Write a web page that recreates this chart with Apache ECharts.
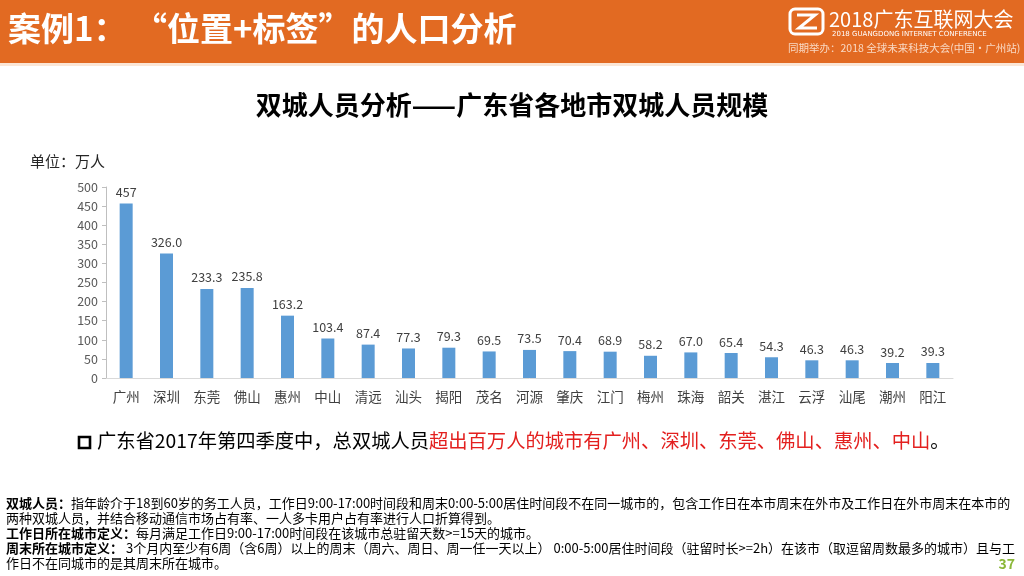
<!DOCTYPE html>
<html>
<head>
<meta charset="utf-8">
<script src="https://cdn.jsdelivr.net/npm/echarts@6/dist/echarts.min.js"></script>
<style>
html,body{margin:0;padding:0;background:#fff;}
#main{width:1024px;height:576px;}
</style>
</head>
<body>
<div id="main"></div>
<script>
const categories = ['广州','深圳','东莞','佛山','惠州','中山','清远','汕头','揭阳','茂名','河源','肇庆','江门','梅州','珠海','韶关','湛江','云浮','汕尾','潮州','阳江'];
const values = [457,326.0,233.3,235.8,163.2,103.4,87.4,77.3,79.3,69.5,73.5,70.4,68.9,58.2,67.0,65.4,54.3,46.3,46.3,39.2,39.3];
const valueLabels = ['457','326.0','233.3','235.8','163.2','103.4','87.4','77.3','79.3','69.5','73.5','70.4','68.9','58.2','67.0','65.4','54.3','46.3','46.3','39.2','39.3'];
const headerTitleA = '案例1：';
const headerTitleB = '“位置+标签”的人口分析';
const logoTitle = '2018广东互联网大会';
const logoSub = '2018 GUANGDONG INTERNET CONFERENCE';
const logoSub2 = '同期举办：2018 全球未来科技大会(中国·广州站)';
const chartTitle = '双城人员分析——广东省各地市双城人员规模';
const unitText = '单位：万人';
const bulletBlack = '广东省2017年第四季度中，总双城人员';
const bulletRed = '超出百万人的城市有广州、深圳、东莞、佛山、惠州、中山';
const bulletEnd = '。';
const notes = [
  [['b','双城人员：'],['n','指年龄介于18到60岁的务工人员，工作日9:00-17:00时间段和周末0:00-5:00居住时间段不在同一城市的，包含工作日在本市周末在外市及工作日在外市周末在本市的']],
  [['n','两种双城人员，并结合移动通信市场占有率、一人多卡用户占有率进行人口折算得到。']],
  [['b','工作日所在城市定义：'],['n','每月满足工作日9:00-17:00时间段在该城市总驻留天数>=15天的城市。']],
  [['b','周末所在城市定义：'],['n',' 3个月内至少有6周（含6周）以上的周末（周六、周日、周一任一天以上） 0:00-5:00居住时间段（驻留时长>=2h）在该市（取逗留周数最多的城市）且与工']],
  [['n','作日不在同城市的是其周末所在城市。']]
];
const pageNumber = '37';

const FONT = '"Noto Sans CJK SC", "Noto Sans", sans-serif';
const chart = echarts.init(document.getElementById('main'), null, {renderer:'canvas'});

const noteY = [506, 521, 536, 551, 566];
const noteGraphics = notes.map((parts, i) => ({
  type:'text', left:6, top:noteY[i]-9, z:10,
  style:{
    text: parts.map(p => '{' + p[0] + '|' + p[1] + '}').join(''),
    rich:{
      b:{fontFamily:FONT,fontSize:13,fontWeight:'bold',fill:'#000',color:'#000'},
      n:{fontFamily:FONT,fontSize:13,fill:'#000',color:'#000'}
    }
  }
}));

chart.setOption({
  animation:false,
  backgroundColor:'#ffffff',
  textStyle:{fontFamily:FONT},
  grid:{left:106, right:71, top:187, bottom:198, containLabel:false},
  xAxis:{
    type:'category', data:categories,
    axisLine:{lineStyle:{color:'#D9D9D9', width:1}},
    axisTick:{show:false},
    axisLabel:{color:'#404040', fontSize:13.5, margin:12, fontFamily:FONT, interval:0}
  },
  yAxis:{
    type:'value', min:0, max:500, interval:50,
    axisLine:{show:true, lineStyle:{color:'#BFBFBF'}},
    axisTick:{show:true, length:4, lineStyle:{color:'#BFBFBF'}},
    splitLine:{show:false},
    axisLabel:{color:'#595959', fontSize:12.5, margin:8, fontFamily:FONT}
  },
  series:[{
    type:'bar', data:values, barWidth:13,
    itemStyle:{color:'#5B9BD5'},
    label:{show:true, position:'top', distance:5, color:'#404040', fontSize:12.5, fontFamily:FONT,
      formatter: p => valueLabels[p.dataIndex]}
  }],
  graphic:[
    {type:'rect', shape:{x:0,y:0,width:1024,height:63}, style:{fill:'#E26A22'}, z:1},
    {type:'rect', shape:{x:0,y:63,width:1024,height:3}, style:{fill:'#FBE6D6'}, z:1},
    {type:'text', left:8, top:12, z:10, style:{text:headerTitleA, fontFamily:FONT, fontSize:33, fontWeight:'bold', fill:'#fff'}},
    {type:'text', left:134, top:12, z:10, style:{text:headerTitleB, fontFamily:FONT, fontSize:33, fontWeight:'bold', fill:'#fff'}},
    {type:'rect', shape:{x:790,y:9,width:33,height:25,r:5}, style:{fill:'none', stroke:'#fff', lineWidth:3}, z:10},
    {type:'polyline', shape:{points:[[797,15],[815,15],[799,28],[817,28]]}, style:{fill:'none', stroke:'#fff', lineWidth:3}, z:10},
    {type:'text', left:829, top:9, z:10, style:{text:logoTitle, fontFamily:FONT, fontSize:20, fill:'#fff'}},
    {type:'text', left:832, top:31, z:10, style:{text:logoSub, fontFamily:'"DejaVu Sans", sans-serif', fontSize:7, fill:'#fff'}},
    {type:'text', left:788, top:43, z:10, style:{text:logoSub2, fontFamily:FONT, fontSize:10.5, fill:'#F9D9C4'}},
    {type:'text', left:'center', top:92, z:10, style:{text:chartTitle, fontFamily:FONT, fontSize:26, fontWeight:'bold', fill:'#000'}},
    {type:'text', left:30, top:154, z:10, style:{text:unitText, fontFamily:FONT, fontSize:15, fill:'#262626'}},
    {type:'rect', shape:{x:79,y:437,width:11,height:11}, style:{fill:'none', stroke:'#000', lineWidth:2.6}, z:10},
    {type:'text', left:97, top:431, z:10, style:{
      text:'{a|' + bulletBlack + '}{r|' + bulletRed + '}{a|' + bulletEnd + '}',
      rich:{a:{fontFamily:FONT,fontSize:19.3,fill:'#000',color:'#000'}, r:{fontFamily:FONT,fontSize:19.3,fill:'#E3201F',color:'#E3201F'}}
    }},
    ...noteGraphics,
    {type:'text', right:9, top:557, z:10, style:{text:pageNumber, fontFamily:FONT, fontSize:14, fontWeight:'bold', fill:'#8CB83A'}}
  ]
});
</script>
</body>
</html>
